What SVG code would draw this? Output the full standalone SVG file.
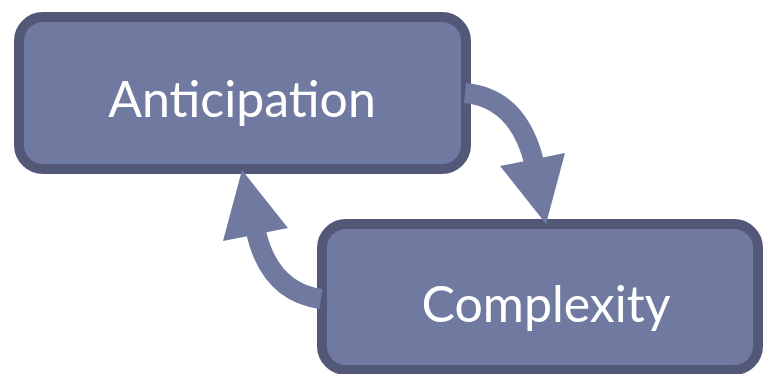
<svg xmlns="http://www.w3.org/2000/svg" width="763" height="374" viewBox="0 0 763 374">
<style>
.box{fill:#707aa0;stroke:#535878;stroke-width:10}
.lbl{fill:#ffffff;font-family:Lato,"Open Sans","Liberation Sans",sans-serif;font-size:50px;text-anchor:middle}
.shaft{fill:none;stroke:#707aa0;stroke-width:20}
.head{fill:#707aa0}
</style>
<rect width="763" height="374" fill="#ffffff"/>
<g id="node-anticipation">
<rect class="box" x="19" y="17" width="447" height="152" rx="24"/>
<text class="lbl" x="242" y="117">Anticipation</text>
</g>
<g id="node-complexity">
<rect class="box" x="322" y="224" width="436" height="146" rx="24"/>
<text class="lbl" x="546" y="322">Complexity</text>
</g>
<g id="connectors">
<path class="shaft" d="M465 93 Q518 98 534 162"/>
<polygon class="head" points="500,166 565,153 546,224"/>
<path class="shaft" d="M321 299 Q270 292 256 232"/>
<polygon class="head" points="223,241 288,228 242,170"/>
</g>
</svg>
